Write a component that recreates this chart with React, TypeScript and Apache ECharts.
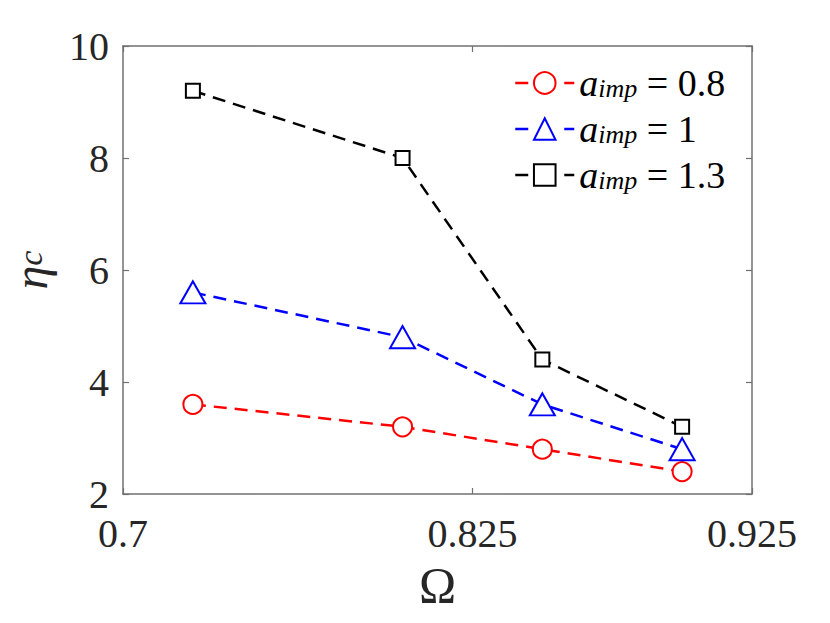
import React, { useEffect, useRef } from "react";
import * as echarts from "echarts";

const omega = [0.725, 0.8, 0.85, 0.9];
const eta08 = [3.6, 3.2, 2.8, 2.4];
const eta1 = [5.6, 4.8, 3.6, 2.8];
const eta13 = [9.2, 8.0, 4.4, 3.2];
const seriesNames = ["0.8", "1", "1.3"];
const xTicks = [0.7, 0.825, 0.925];

const FONT = "'Liberation Serif', 'DejaVu Serif', serif";
const TXT = "#262626";
const AX = "#707070";

export default function App() {
  const ref = useRef<HTMLDivElement>(null);
  useEffect(() => {
    if (!ref.current) return;
    const chart = echarts.init(ref.current, undefined, { renderer: "svg" });
    const pair = (ys: number[]) => omega.map((x, i) => [x, ys[i]]);
    const dash = [13, 8];
    const mk = (name: string, ys: number[], color: string, symbol: string, size: any) => ({
      name,
      type: "line",
      data: pair(ys),
      symbol,
      symbolSize: size,
      lineStyle: { color, width: 2.5, type: dash },
      itemStyle: { color, borderColor: color, borderWidth: 2.5 },
      z: 3,
    });
    const xBase = {
      type: "value",
      min: 0.7,
      max: 0.925,
      splitLine: { show: false },
      axisLine: { show: true, onZero: false, lineStyle: { color: AX, width: 1.5 } },
      axisTick: { show: true, inside: true, length: 6, customValues: xTicks, lineStyle: { color: AX, width: 1.2 } },
    };
    const yBase = {
      type: "value",
      min: 2,
      max: 10,
      interval: 2,
      splitLine: { show: false },
      axisLine: { show: true, onZero: false, lineStyle: { color: AX, width: 1.5 } },
      axisTick: { show: true, inside: true, length: 6, lineStyle: { color: AX, width: 1.2 } },
    };
    chart.setOption({
      animation: false,
      backgroundColor: "#fff",
      grid: { left: 123, top: 46, right: 78, bottom: 129, containLabel: false, outerBoundsMode: "none" },
      legend: {
        orient: "vertical",
        left: 509,
        top: 59,
        itemWidth: 59,
        itemHeight: 27,
        itemGap: 8,
        lineStyle: { type: [13, 36], width: 2.5 },
        data: seriesNames,
        formatter: (n: string) => `{i|a}{s|imp}{r| = ${n}}`,
        textStyle: {
          fontFamily: FONT,
          color: "#000",
          rich: {
            i: { fontFamily: FONT, fontStyle: "italic", fontSize: 38, lineHeight: 36, color: "#000" },
            s: { fontFamily: FONT, fontStyle: "italic", fontSize: 26, lineHeight: 20, verticalAlign: "bottom", color: "#000" },
            r: { fontFamily: FONT, fontSize: 38, lineHeight: 36, color: "#000" },
          },
        },
      },
      xAxis: [
        {
          ...xBase,
          position: "bottom",
          name: "Ω",
          nameLocation: "middle",
          nameGap: 66,
          nameTextStyle: { fontFamily: FONT, fontSize: 50, color: TXT },
          axisLabel: { show: true, customValues: xTicks, fontFamily: FONT, fontSize: 40, lineHeight: 30, color: TXT, margin: 24 },
        },
        {
          ...xBase,
          position: "top",
          axisLabel: { show: false },
        },
      ],
      yAxis: [
        {
          ...yBase,
          position: "left",
          name: "{e|η}{c|c}",
          nameLocation: "middle",
          nameGap: 76,
          nameTextStyle: {
            fontFamily: FONT,
            color: TXT,
            rich: {
              e: { fontFamily: FONT, fontStyle: "italic", fontSize: 48, lineHeight: 34, color: TXT },
              c: { fontFamily: FONT, fontStyle: "italic", fontSize: 34, lineHeight: 14, verticalAlign: "bottom", color: TXT },
            },
          },
          axisLabel: { show: true, fontFamily: FONT, fontSize: 40, lineHeight: 30, color: TXT, margin: 14 },
        },
        {
          ...yBase,
          position: "right",
          axisLabel: { show: false },
        },
      ],
      series: [
        mk(seriesNames[0], eta08, "#ff0000", "emptyCircle", 19),
        mk(seriesNames[1], eta1, "#0000ff", "emptyTriangle", [25, 22]),
        mk(seriesNames[2], eta13, "#000000", "emptyRect", 14),
      ],
    });
    return () => chart.dispose();
  }, []);
  return <div ref={ref} style={{ position: "fixed", left: 0, top: 0, width: 830, height: 623 }} />;
}
